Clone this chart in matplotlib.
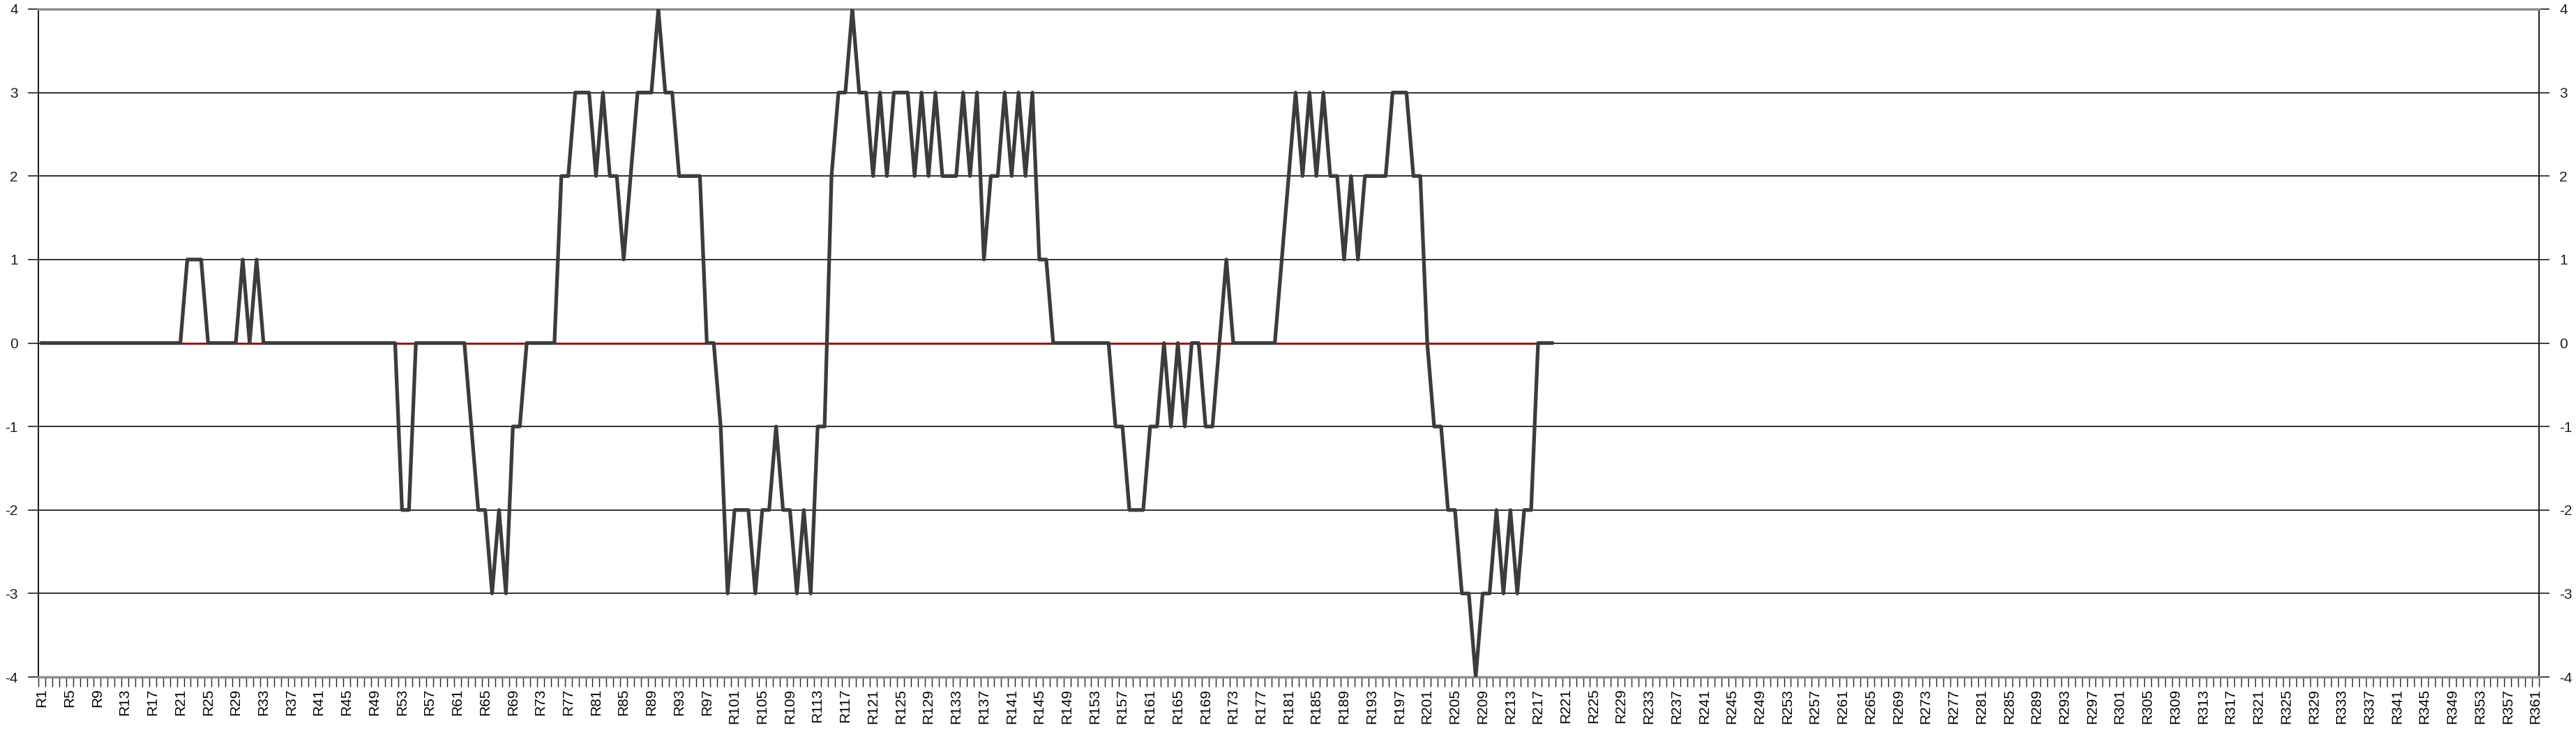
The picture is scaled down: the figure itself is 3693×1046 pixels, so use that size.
import matplotlib.pyplot as plt
import numpy as np

plt.rcParams['font.family'] = ['Liberation Sans', 'DejaVu Sans']
plt.rcParams['axes.unicode_minus'] = False

# ---- data ----
n_cat = 361
categories = [f"R{i}" for i in range(1, n_cat + 1)]

values = [
    0, 0, 0, 0, 0, 0, 0, 0, 0, 0,
    0, 0, 0, 0, 0, 0, 0, 0, 0, 0,
    0, 1, 1, 1, 0, 0, 0, 0, 0, 1,
    0, 1, 0, 0, 0, 0, 0, 0, 0, 0,
    0, 0, 0, 0, 0, 0, 0, 0, 0, 0,
    0, 0, -2, -2, 0, 0, 0, 0, 0, 0,
    0, 0, -1, -2, -2, -3, -2, -3, -1, -1,
    0, 0, 0, 0, 0, 2, 2, 3, 3, 3,
    2, 3, 2, 2, 1, 2, 3, 3, 3, 4,
    3, 3, 2, 2, 2, 2, 0, 0, -1, -3,
    -2, -2, -2, -3, -2, -2, -1, -2, -2, -3,
    -2, -3, -1, -1, 2, 3, 3, 4, 3, 3,
    2, 3, 2, 3, 3, 3, 2, 3, 2, 3,
    2, 2, 2, 3, 2, 3, 1, 2, 2, 3,
    2, 3, 2, 3, 1, 1, 0, 0, 0, 0,
    0, 0, 0, 0, 0, -1, -1, -2, -2, -2,
    -1, -1, 0, -1, 0, -1, 0, 0, -1, -1,
    0, 1, 0, 0, 0, 0, 0, 0, 0, 1,
    2, 3, 2, 3, 2, 3, 2, 2, 1, 2,
    1, 2, 2, 2, 2, 3, 3, 3, 2, 2,
    0, -1, -1, -2, -2, -3, -3, -4, -3, -3,
    -2, -3, -2, -3, -2, -2, 0, 0, 0,
]
baseline = [0] * 217

y_ticks = [-4, -3, -2, -1, 0, 1, 2, 3, 4]

# ---- figure ----
W, H = 3693, 1046
fig = plt.figure(figsize=(W / 100, H / 100), dpi=100)
ax = fig.add_axes([55 / W, 1 - 970 / H, (3640 - 55) / W, (970 - 13) / H])

ax.plot(np.arange(len(baseline)), baseline, color="#a00000", lw=2.0, zorder=2)
ax.plot(np.arange(len(values)), values, color="#3c3c3c", lw=3.8, zorder=3)

ax.set_xlim(-0.5, n_cat - 0.5)
ax.set_ylim(-4, 4)

# y axis (mirrored on right)
ax.set_yticks(y_ticks)
ax.set_yticklabels([str(v) for v in y_ticks])
ax.tick_params(axis="y", which="major", left=True, right=True, labelleft=True,
               labelright=True, length=11, width=1.2, pad=10, labelsize=15,
               color="#202020", labelcolor="#202020")
ax.grid(axis="y", color="#202020", lw=1.3, zorder=1)
ax.set_axisbelow(True)

# x axis: labels every 4th category, small ticks at every category boundary
ax.set_xticks(np.arange(0, n_cat, 4))
ax.set_xticklabels(categories[::4], rotation=90, fontsize=15, va="top")
ax.set_xticks(np.arange(-0.5, n_cat, 1), minor=True)
ax.tick_params(axis="x", which="major", length=0, pad=12)
ax.tick_params(axis="x", which="minor", length=10, width=1.0, color="#202020")

for side in ("left", "right"):
    ax.spines[side].set_color("#202020")
    ax.spines[side].set_linewidth(1.5)
for side in ("top", "bottom"):
    ax.spines[side].set_color("#8c8c8c")
    ax.spines[side].set_linewidth(2.5)

fig.savefig("out.png", dpi=100, facecolor="white")
